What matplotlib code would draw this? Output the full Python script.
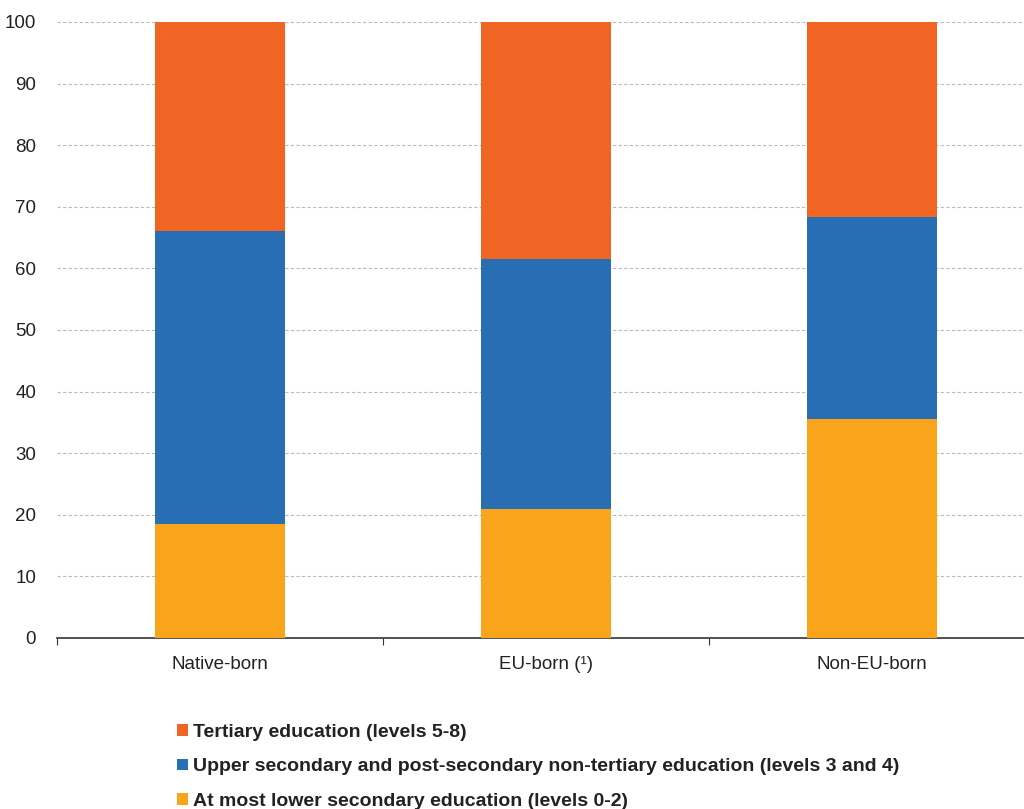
import matplotlib.pyplot as plt
import numpy as np

plt.rcParams['font.family'] = ['Liberation Sans', 'DejaVu Sans']

# Data (% share by educational attainment)
groups = ['Native-born', 'EU-born (\u00b9)', 'Non-EU-born']
low = [18.5, 20.9, 35.5]
medium = [47.6, 40.6, 32.8]
high = [33.9, 38.5, 31.7]

labels = ['Tertiary education (levels 5-8)',
          'Upper secondary and post-secondary non-tertiary education (levels 3 and 4)',
          'At most lower secondary education (levels 0-2)']
colors = ['#F06424', '#286EB4', '#F8A51C']

fig = plt.figure(figsize=(10.24, 8.09), dpi=100)
ax = fig.add_axes([57 / 1024, 1 - 638 / 809, 978 / 1024, 616 / 809])

x = np.arange(len(groups))
w = 0.4
b_low = ax.bar(x, low, w, color=colors[2], zorder=3)
b_med = ax.bar(x, medium, w, bottom=low, color=colors[1], zorder=3)
b_high = ax.bar(x, high, w, bottom=np.array(low) + np.array(medium), color=colors[0], zorder=3)

ax.set_xlim(-0.5, 2.5)
ax.set_ylim(0, 100)
ax.set_yticks(range(0, 101, 10))
ax.grid(axis='y', color='#BBBBBB', linestyle=(0, (3, 2)), linewidth=0.8, zorder=0)

for s in ['left', 'right', 'top']:
    ax.spines[s].set_visible(False)
ax.spines['bottom'].set_color('#333333')
ax.spines['bottom'].set_linewidth(1.2)

ax.set_xticks([-0.5, 0.5, 1.5, 2.5])
ax.set_xticklabels([])
ax.set_xticks(x, minor=True)
ax.set_xticklabels(groups, minor=True)
ax.tick_params(axis='x', which='major', length=5, color='#333333')
ax.tick_params(axis='x', which='minor', length=0, pad=13, labelsize=13.5, labelcolor='#222222')
ax.tick_params(axis='y', length=0, pad=15, labelsize=13.5, labelcolor='#222222')

leg = fig.legend([b_high, b_med, b_low], labels, loc='upper left',
                 bbox_to_anchor=(171 / 1024, 1 - 718 / 809), frameon=False,
                 handlelength=0.55, handleheight=0.55, handletextpad=0.3,
                 labelspacing=0.9, borderaxespad=0, borderpad=0.3,
                 prop={'weight': 'bold', 'size': 14})
for t in leg.get_texts():
    t.set_color('#222222')

fig.savefig('out.png', dpi=100)
